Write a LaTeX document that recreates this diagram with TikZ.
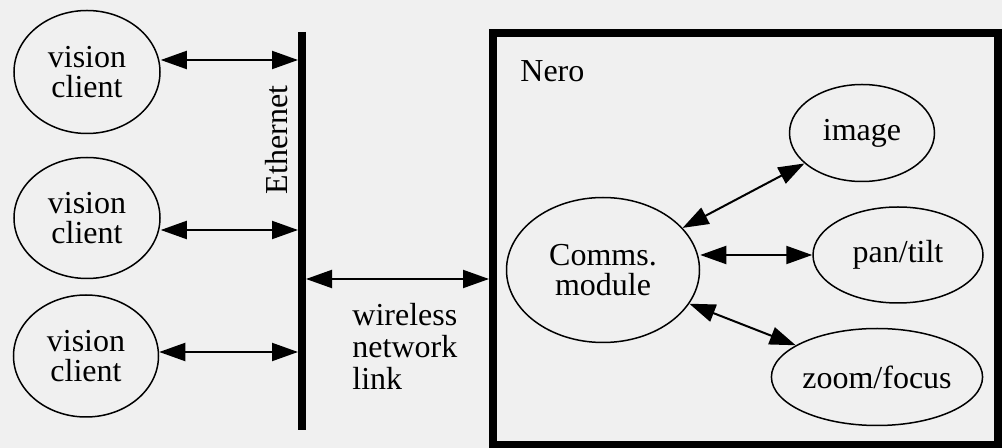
\documentclass[tikz,border=0pt]{standalone}
\usepackage{fontspec}
\setmainfont{Liberation Serif}
\usetikzlibrary{arrows.meta,shapes.geometric}

\tikzset{
  unit/.style={draw, ellipse, line width=0.75pt, inner sep=0pt, align=center},
  link/.style={{Triangle[length=13pt,width=9pt]}-{Triangle[length=13pt,width=9pt]}, line width=1pt},
}

\begin{document}
\begin{tikzpicture}[x=0.5pt, y=-0.5pt, font=\fontsize{16}{15}\selectfont]
    \fill[black!6] (0,0) rectangle (1002,448);
    \useasboundingbox (0,0) rectangle (1002,448);
    % vision clients
    \node[unit, minimum width=73pt, minimum height=61.5pt] at (87, 72) (c1) {vision\\client};
    \node[unit, minimum width=73pt, minimum height=60.5pt] at (87, 218) (c2) {vision\\client};
    \node[unit, minimum width=72.5pt, minimum height=61pt] at (86, 356) (c3) {vision\\client};
    % Ethernet
    \draw [line width=4pt] (302, 32) coordinate (ethtop) -- (302, 430) coordinate (ethbot);
    \node[rotate=90, inner sep=0pt] at (277, 140) (ethlabel) {Ethernet};
    \coordinate (e1) at (298, 60);
    \coordinate (e2) at (298, 230);
    \coordinate (e3) at (298, 352);
    \coordinate (ew) at (306, 279);
    \draw [link] (c1.east |- e1) -- (e1);
    \draw [link] (c2.east |- e2) -- (e2);
    \draw [link] (c3.east |- e3) -- (e3);
    % Nero
    \node[draw, line width=4pt, inner sep=0pt, minimum width=252.5pt, minimum height=206pt] at (745.5, 239) (nero) {};
    \node[anchor=base west, inner sep=0pt] at (520, 82) (nerolabel) {Nero};
    \draw [link] (ew) -- (nero.west |- ew);
    \node[anchor=north west, align=left, inner sep=0pt, font=\fontsize{16}{16}\selectfont] at (352, 303) (wlabel) {wireless\\network\\link};
    \node[unit, minimum width=96.5pt, minimum height=72.5pt] at (603, 270) (comms) {Comms.\\module};
    \node[unit, minimum width=72.5pt, minimum height=48.5pt] at (862, 133) (img) {image};
    \node[unit, minimum width=85pt, minimum height=48pt] at (898, 255) (pan) {pan/tilt};
    \node[unit, minimum width=82.5pt, minimum height=48.5pt] at (877, 377) (zoom) {zoom/focus};
    \draw [link] (comms) -- (img);
    \draw [link] (comms.east |- pan.west) -- (pan.west);
    \draw [link] (comms) -- (zoom);
\end{tikzpicture}
\end{document}
